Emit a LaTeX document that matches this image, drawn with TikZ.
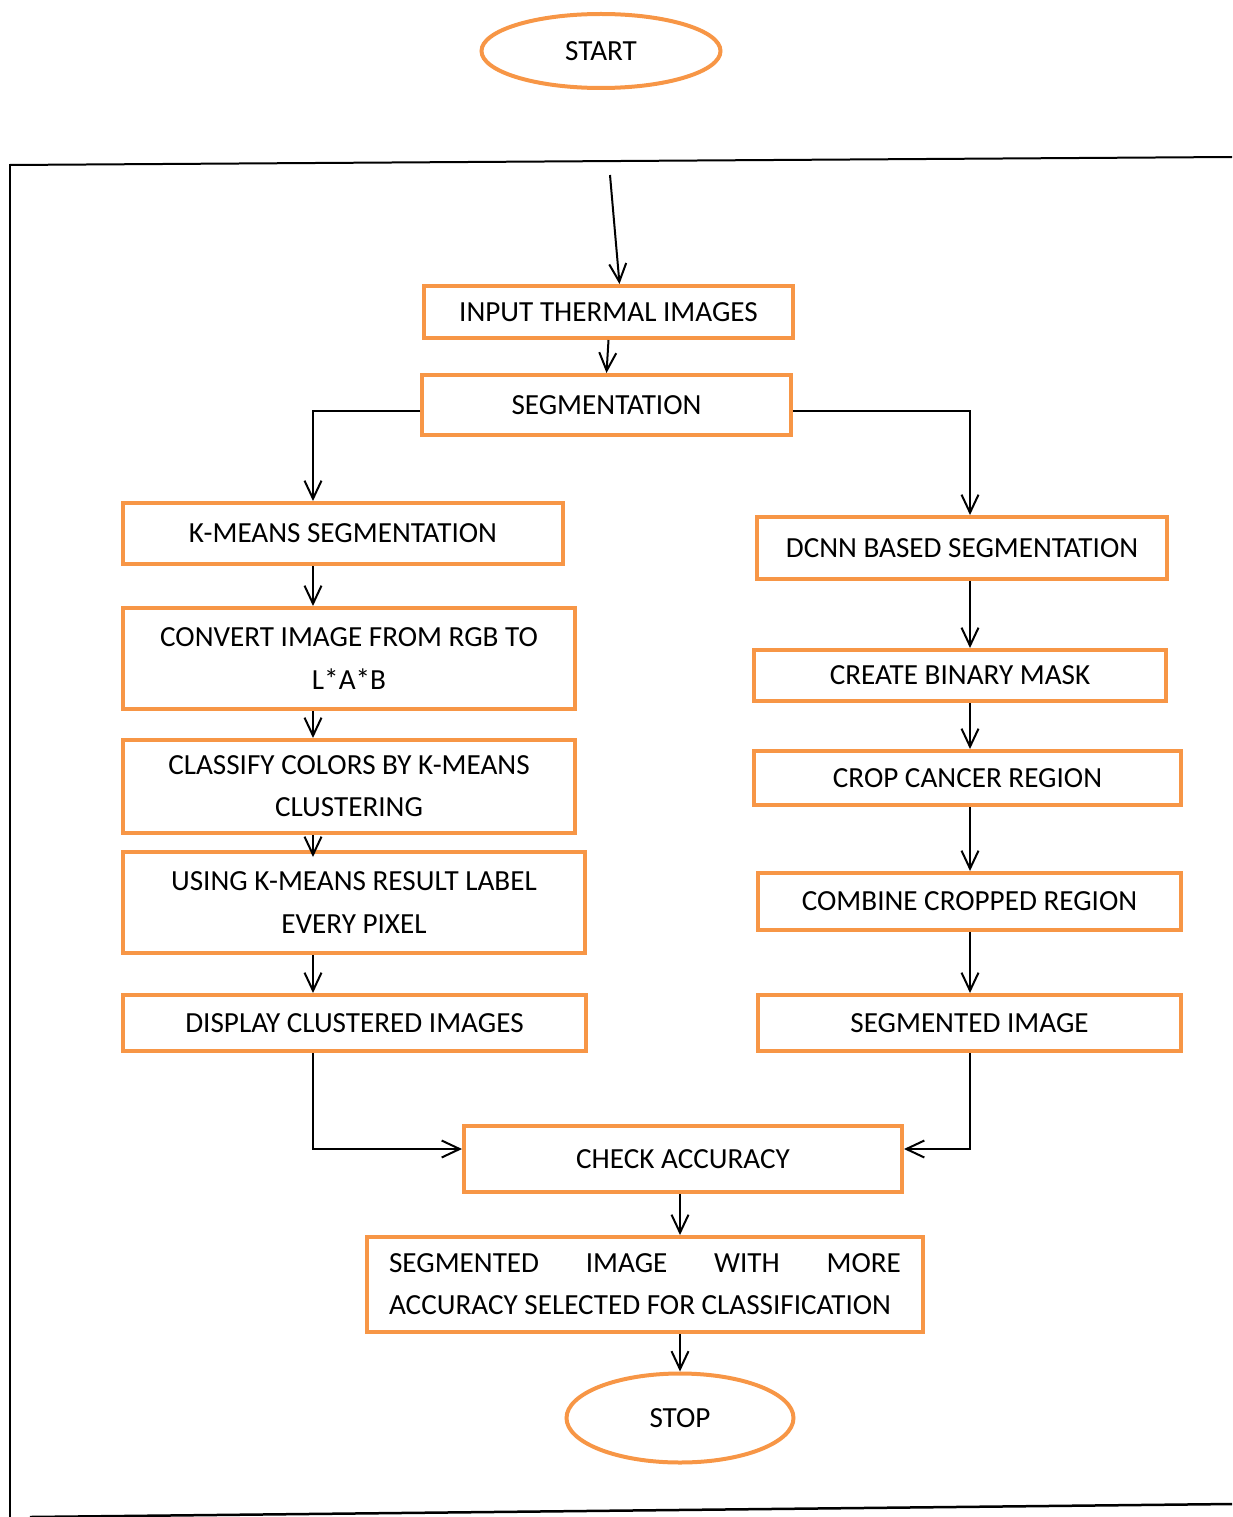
\documentclass[tikz,border=0pt]{standalone}
\usepackage{fontspec}
\setmainfont{Carlito}
\usetikzlibrary{shapes.geometric,arrows.meta,calc}
\definecolor{boxorange}{RGB}{247,150,70}

\begin{document}
\begin{tikzpicture}[
        x=0.02cm, y=-0.02cm,
        font=\fontsize{16.6}{24}\selectfont,
        box_dim/.style 2 args={
            minimum width=#1*0.02cm,
            minimum height=#2*0.02cm
        },
        proc_box/.style={
            draw=boxorange,
            line width=0.08cm,
            rectangle,
            inner sep=0pt,
            align=center
        },
        term_node/.style={
            draw=boxorange,
            line width=0.08cm,
            ellipse,
            inner sep=0pt
        },
        flow_arrow/.style={
            line width=0.04cm,
            -{Straight Barb[length=3.6mm,width=3.4mm]}
        }
    ]
        \useasboundingbox (0,0) rectangle (1232,1517);

        % outer frame
        \draw[line width=0.04cm] (1232,157) -- (10,165) -- (10,1517);
        \draw[line width=0.05cm] (30,1517) -- (1232,1504);

        % columns of the connectors
        \coordinate (lcol) at (313,0);
        \coordinate (rcol) at (970,0);
        \coordinate (mcol) at (680,0);
        \coordinate (entry) at (610,175);

        \node[term_node, box_dim={239}{74}] (start) at (601,51) {START};

        \node[proc_box, box_dim={369}{52}] (input) at (608.5,312) {INPUT THERMAL IMAGES};
        \node[proc_box, box_dim={369}{60}] (seg) at (606.5,405) {SEGMENTATION};

        % left branch
        \node[proc_box, box_dim={440}{61}] (kmeans) at (343,533.5) {K-MEANS SEGMENTATION};
        \node[proc_box, box_dim={452}{101}] (convert) at (349,658.5) {CONVERT IMAGE FROM RGB TO\\L*A*B};
        \node[proc_box, box_dim={452}{93}] (classify) at (349,786.5) {CLASSIFY COLORS BY K-MEANS\\CLUSTERING};
        \node[proc_box, box_dim={462}{101}] (label) at (354,902.5) {USING K-MEANS RESULT LABEL\\EVERY PIXEL};
        \node[proc_box, box_dim={463}{56}] (display) at (354.5,1023) {DISPLAY CLUSTERED IMAGES};

        % right branch
        \node[proc_box, box_dim={410}{62}] (dcnn) at (962,548) {DCNN BASED SEGMENTATION};
        \node[proc_box, box_dim={412}{51}] (mask) at (960,675.5) {CREATE BINARY MASK};
        \node[proc_box, box_dim={427}{54}] (crop) at (967.5,778) {CROP CANCER REGION};
        \node[proc_box, box_dim={423}{57}] (combine) at (969.5,901.5) {COMBINE CROPPED REGION};
        \node[proc_box, box_dim={423}{56}] (segimg) at (969.5,1023) {SEGMENTED IMAGE};

        \node[proc_box, box_dim={438}{66}] (check) at (683,1159) {CHECK ACCURACY};
        \node[proc_box, box_dim={556}{95}, align=left] (final) at (645,1284.5)
            {\hbox to 10.24cm{SEGMENTED\hfill IMAGE\hfill WITH\hfill MORE}\\ACCURACY SELECTED FOR CLASSIFICATION};

        \node[term_node, box_dim={227}{89}] (stop) at (680,1418) {STOP};

        % connectors
        \draw[flow_arrow] (entry) -- ($(input.north)+(11,0)$);
        \draw[flow_arrow] (input.south) -- (seg.north);
        \draw[flow_arrow] ($(seg.west)+(0,6)$) -| (kmeans.north -| lcol);
        \draw[flow_arrow] ($(seg.east)+(0,6)$) -| (dcnn.north -| rcol);

        \draw[flow_arrow] (kmeans.south -| lcol) -- (convert.north -| lcol);
        \draw[flow_arrow] (convert.south -| lcol) -- (classify.north -| lcol);
        \draw[flow_arrow] (classify.south -| lcol) -- ($(label.north -| lcol)+(0,7)$);
        \draw[flow_arrow] (label.south -| lcol) -- (display.north -| lcol);

        \draw[flow_arrow] (dcnn.south -| rcol) -- (mask.north -| rcol);
        \draw[flow_arrow] (mask.south -| rcol) -- (crop.north -| rcol);
        \draw[flow_arrow] (crop.south -| rcol) -- (combine.north -| rcol);
        \draw[flow_arrow] (combine.south -| rcol) -- (segimg.north -| rcol);

        \draw[flow_arrow] (display.south -| lcol) |- ($(check.west)+(0,-10)$);
        \draw[flow_arrow] (segimg.south -| rcol) |- ($(check.east)+(0,-10)$);

        \draw[flow_arrow] (check.south -| mcol) -- (final.north -| mcol);
        \draw[flow_arrow] (final.south -| mcol) -- (stop.north -| mcol);

    \end{tikzpicture}
\end{document}
